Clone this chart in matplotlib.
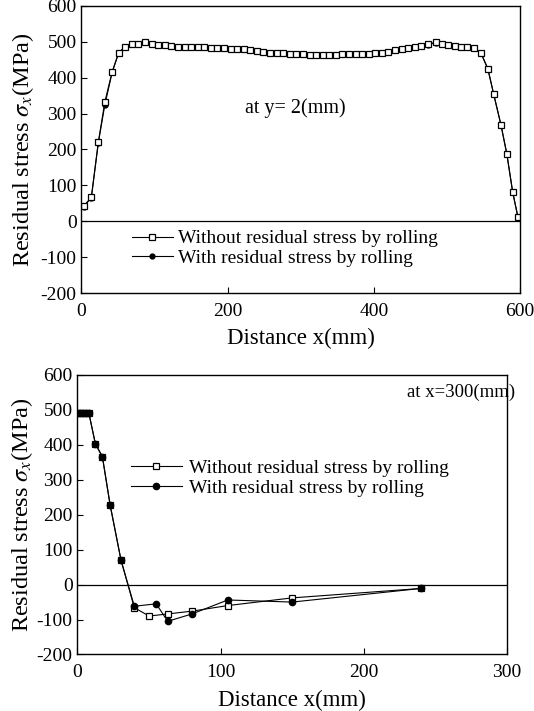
import matplotlib
matplotlib.use('Agg')
import matplotlib.pyplot as plt

# top chart: along the width at y = 2 mm
top_x = [3, 13.5, 23, 32, 42, 51, 60, 69, 78, 87.5, 96, 105, 114, 123, 132, 141,
         150, 159, 168, 177, 186, 195, 204, 213, 222, 231, 240, 249, 258, 267,
         276, 285, 294, 303, 312, 321, 330, 339, 348, 357, 366, 375, 384, 393,
         402, 411, 420, 429, 438, 447, 456, 465, 474, 485, 493, 502, 511, 519,
         527, 537, 546.5, 556, 564, 574, 582, 590, 597]
top_without = [42, 67, 220, 333, 417, 470, 487, 494, 495, 499, 494, 490, 490, 489,
               487, 487, 487, 486, 485, 484, 484, 483, 481, 480, 479, 477, 475,
               473, 470, 469, 468, 467, 466, 465, 464, 464, 463, 463, 464, 465,
               465, 466, 466, 467, 468, 470, 473, 476, 479, 482, 486, 489, 493,
               499, 495, 491, 489, 487, 485, 483, 469, 425, 354, 268, 187, 81, 13]
top_with = [40, 66, 218, 325, 415, 470, 487, 494, 495, 499, 494, 490, 490, 489,
            487, 487, 487, 486, 485, 484, 484, 483, 481, 480, 479, 477, 475,
            473, 470, 469, 468, 467, 466, 465, 464, 464, 462, 463, 464, 465,
            465, 466, 466, 467, 468, 470, 473, 476, 479, 482, 485, 488, 492,
            498, 495, 491, 489, 487, 485, 483, 469, 425, 354, 268, 187, 81, 13]

# bottom chart: through the thickness at x = 300 mm
bot_x_without = [0, 2, 4, 6, 8, 12.5, 17.4, 22.8, 30.4, 39.7, 50, 63, 80, 105, 150, 240]
bot_without = [490, 490, 490, 490, 490, 403, 366, 228, 70, -66, -90, -84, -76, -60, -38, -11]
bot_x_with = [0, 2, 4, 6, 8, 12.5, 17.4, 22.8, 30.4, 39.7, 55, 63, 80, 105, 150, 240]
bot_with = [490, 490, 490, 490, 490, 403, 366, 228, 70, -62, -55, -105, -84, -44, -50, -11]

label_without = 'Without residual stress by rolling'
label_with = 'With residual stress by rolling'

plt.rcParams['font.family'] = ['Liberation Serif', 'DejaVu Serif']
plt.rcParams['mathtext.fontset'] = 'stix'
plt.rcParams['axes.unicode_minus'] = False

fig = plt.figure(figsize=(5.34, 7.11), dpi=100)
ax1 = fig.add_axes([0.1526, 0.5879, 0.8212, 0.4037])
ax2 = fig.add_axes([0.1451, 0.0795, 0.8043, 0.3931])

fs = 14

# top
ax1.plot(top_x, top_with, '-o', color='black', lw=0.8, ms=3.5, label=label_with)
ax1.plot(top_x, top_without, '-s', color='black', lw=0.8, ms=5, mfc='white',
         mew=0.9, label=label_without)
ax1.axhline(0, color='black', lw=0.9)
ax1.set_xlim(0, 600)
ax1.set_ylim(-200, 600)
ax1.set_xticks([0, 200, 400, 600])
ax1.set_yticks(range(-200, 601, 100))
ax1.text(0.487, 0.645, 'at y= 2(mm)', transform=ax1.transAxes, ha='center',
         va='center', fontsize=14.5)
h, l = ax1.get_legend_handles_labels()
ax1.legend(h[::-1], l[::-1], loc='center left', bbox_to_anchor=(0.115, 0.155),
           frameon=False, fontsize=14, handlelength=2.1, handletextpad=0.25,
           labelspacing=0.12, borderpad=0, borderaxespad=0)
ax1.set_xlabel('Distance x(mm)', fontsize=16.5, labelpad=6)
ax1.set_ylabel(r'Residual stress $\sigma_x$(MPa)', fontsize=17.5, labelpad=3)

# bottom
ax2.plot(bot_x_without, bot_without, '-s', color='black', lw=0.8, ms=5, mfc='white',
         mew=0.9, label=label_without)
ax2.plot(bot_x_with, bot_with, '-o', color='black', lw=0.8, ms=4.5, label=label_with)
ax2.axhline(0, color='black', lw=0.9)
ax2.set_xlim(0, 300)
ax2.set_ylim(-200, 600)
ax2.set_xticks([0, 100, 200, 300])
ax2.set_yticks(range(-200, 601, 100))
ax2.text(0.893, 0.939, 'at x=300(mm)', transform=ax2.transAxes, ha='center',
         va='center', fontsize=13.5)
h, l = ax2.get_legend_handles_labels()
ax2.legend(h, l, loc='center left', bbox_to_anchor=(0.125, 0.632),
           frameon=False, fontsize=14, handlelength=2.6, handletextpad=0.35,
           labelspacing=0.12, borderpad=0, borderaxespad=0)
ax2.set_xlabel('Distance x(mm)', fontsize=16.5, labelpad=6)
ax2.set_ylabel(r'Residual stress $\sigma_x$(MPa)', fontsize=17.5, labelpad=1)

for ax in (ax1, ax2):
    ax.tick_params(direction='in', labelsize=fs, length=4, width=0.8,
                   top=False, right=False)
    ax.tick_params(axis='x', pad=7)
    for s in ax.spines.values():
        s.set_linewidth(1.0)

fig.savefig('out.png', dpi=100)
